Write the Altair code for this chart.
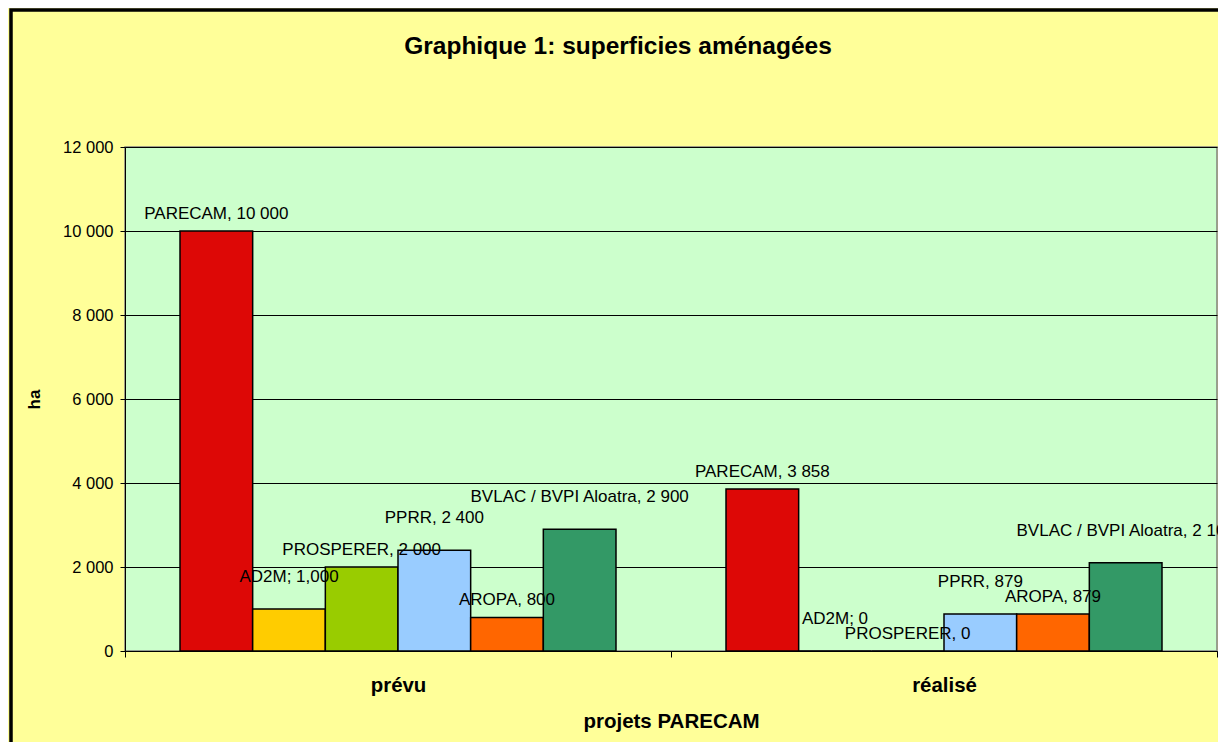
import altair as alt
import pandas as pd

groups = ["prévu", "réalisé"]
series = ["PARECAM", "AD2M", "PROSPERER", "PPRR", "AROPA", "BVLAC / BVPI Aloatra"]
prevu = [10000, 1000, 2000, 2400, 800, 2900]
realise = [3858, 0, 0, 879, 879, 2100]
labels_prevu = ["PARECAM, 10 000", "AD2M; 1,000", "PROSPERER, 2 000",
                "PPRR, 2 400", "AROPA, 800", "BVLAC / BVPI Aloatra, 2 900"]
labels_realise = ["PARECAM, 3 858", "AD2M; 0", "PROSPERER, 0",
                  "PPRR, 879", "AROPA, 879", "BVLAC / BVPI Aloatra, 2 100"]
colors = ["#DD0806", "#FFCC00", "#99CC00", "#99CCFF", "#FF6600", "#339966"]
yticks = [0, 2000, 4000, 6000, 8000, 10000, 12000]

rows = []
for g, vals, labs in ((groups[0], prevu, labels_prevu), (groups[1], realise, labels_realise)):
    for s, v, l in zip(series, vals, labs):
        rows.append({"groupe": g, "projet": s, "ha": v, "label": l})
df = pd.DataFrame(rows)

W, H = 1092, 504
FONT = "Liberation Sans"

x_enc = alt.X(
    "groupe:N", sort=groups,
    scale=alt.Scale(paddingInner=0, paddingOuter=0),
    axis=alt.Axis(
        title="projets PARECAM", titleFont=FONT, titleFontSize=20.5, titleFontWeight="bold",
        titleColor="black", titleY=76, titleBaseline="alphabetic",
        labelFont=FONT, labelFontSize=20.4, labelFontWeight="bold", labelColor="black",
        labelAngle=0, labelBaseline="alphabetic", labelPadding=34,
        tickBand="extent", tickSize=6, tickColor="black", domainColor="black",
        grid=False,
    ),
)
xoff_enc = alt.XOffset(
    "projet:N", sort=series,
    scale=alt.Scale(domain=series, paddingInner=0, paddingOuter=0.757),
)
y_enc = alt.Y(
    "ha:Q",
    scale=alt.Scale(domain=[0, 12000], nice=False),
    axis=alt.Axis(
        values=yticks, title="ha", titleFont=FONT, titleFontSize=17, titleFontWeight="bold",
        titleColor="black", titleX=-91, titleY=H / 2, titleAngle=270,
        titleAlign="center", titleBaseline="middle",
        labelFont=FONT, labelFontSize=16.5, labelColor="black", labelPadding=7,
        labelExpr="replace(format(datum.value, ','), ',', ' ')",
        tickSize=5, tickColor="black", domainColor="black",
        grid=True, gridColor="black", gridWidth=1,
    ),
)

bars = alt.Chart(df).mark_bar(stroke="black", strokeWidth=1.5).encode(
    x=x_enc,
    xOffset=xoff_enc,
    y=y_enc,
    color=alt.Color("projet:N", scale=alt.Scale(domain=series, range=colors), legend=None),
)

# labels of alternate series are staggered so that neighbours do not collide
low_series = series[0::2]
high_series = series[1::2]


def label_layer(which, dy):
    return alt.Chart(df).transform_filter(
        alt.FieldOneOfPredicate(field="projet", oneOf=which)
    ).mark_text(
        font=FONT, fontSize=17, baseline="alphabetic", align="center", dy=dy, color="black"
    ).encode(
        x=alt.X("groupe:N", sort=groups),
        xOffset=alt.XOffset("projet:N", sort=series),
        y=alt.Y("ha:Q"),
        text="label:N",
    )


text_low = label_layer(low_series, -12)
text_high = label_layer(high_series, -27)

frame = alt.Chart(pd.DataFrame({"k": [0]})).mark_rect(
    filled=False, stroke="black", strokeWidth=3.5
).encode(
    x=alt.value(-114), x2=alt.value(W + 200),
    y=alt.value(-137), y2=alt.value(H + 300),
)

chart = alt.layer(bars, text_low, text_high, frame).properties(
    width=W, height=H,
    title=alt.Title(
        "Graphique 1: superficies aménagées", font=FONT, fontSize=24.5, fontWeight="bold",
        color="black", anchor="middle", frame="group", dx=-53, offset=-70,
        baseline="alphabetic",
    ),
    autosize=alt.AutoSizeParams(type="none"),
    padding={"left": 117, "top": 139, "right": 1, "bottom": 91},
    background="#FFFF99",
).configure_view(
    stroke="#808080", strokeWidth=1.5, fill="#CCFFCC"
)

chart.save("out.html", embed_options={"renderer": "svg", "actions": False})
